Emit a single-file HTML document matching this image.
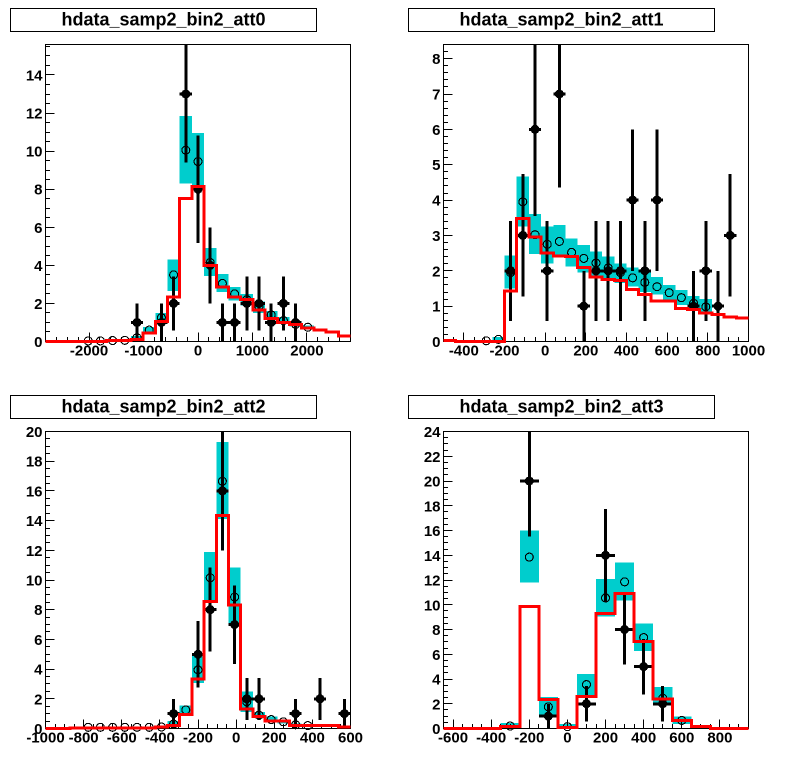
<!DOCTYPE html>
<html>
<head>
<meta charset="utf-8">
<style>
html,body{margin:0;padding:0;background:#fff;width:796px;height:774px;overflow:hidden}
svg{display:block}
text{font-family:"Liberation Sans",sans-serif;font-weight:bold;fill:#000}
</style>
</head>
<body>
<svg id="chart" width="796" height="774" viewBox="0 0 796 774" xmlns="http://www.w3.org/2000/svg">
  <g id="panel0" transform="translate(0,0)">
    <rect x="10.5" y="8.5" width="306" height="23" fill="#fff" stroke="#000"/>
    <text x="163.5" y="25.5" font-size="18" text-anchor="middle">hdata_samp2_bin2_att0</text>
  </g>
  <g id="panel1" transform="translate(398,0)">
    <rect x="10.5" y="8.5" width="306" height="23" fill="#fff" stroke="#000"/>
    <text x="163.5" y="25.5" font-size="18" text-anchor="middle">hdata_samp2_bin2_att1</text>
  </g>
  <g id="panel2" transform="translate(0,387)">
    <rect x="10.5" y="8.5" width="306" height="23" fill="#fff" stroke="#000"/>
    <text x="163.5" y="25.5" font-size="18" text-anchor="middle">hdata_samp2_bin2_att2</text>
  </g>
  <g id="panel3" transform="translate(398,387)">
    <rect x="10.5" y="8.5" width="306" height="23" fill="#fff" stroke="#000"/>
    <text x="163.5" y="25.5" font-size="18" text-anchor="middle">hdata_samp2_bin2_att3</text>
  </g>
</svg>
<script>
// att0
const att0Range = [-2800, 2800];
const att0YMax = 15.6;
const att0XTicks = [-2000, -1000, 0, 1000, 2000];
const att0YTicks = [0, 2, 4, 6, 8, 10, 12, 14];
const att0XMinor = 200;
const att0YMinor = 0.5;
const att0Model = [0, 0, 0, 0, 0, 0.05, 0.05, 0.1, 0.45, 1.05, 2.35, 7.5, 8.15, 4.0, 2.85, 2.35, 2.2, 1.65, 1.2, 1.0, 0.9, 0.7, 0.6, 0.5, 0.3];
const att0Expected = [null, null, null, 0.03, 0.03, 0.05, 0.06, 0.2, 0.6, 1.25, 3.5, 10.05, 9.45, 4.15, 3.05, 2.5, 2.2, 1.85, 1.4, 1.1, 0.9, 0.75, null, null, null];
const att0BandHigh = [null, null, null, null, null, null, null, 0.3, 0.75, 1.5, 4.3, 11.85, 10.95, 4.9, 3.55, 2.85, 2.5, 2.1, 1.6, 1.3, 1.0, 0.85, null, null, null];
const att0BandLow = [null, null, null, null, null, null, null, 0.1, 0.45, 1.0, 2.65, 8.3, 8.0, 3.45, 2.6, 2.15, 1.9, 1.5, 1.15, 0.95, 0.8, 0.65, null, null, null];
const att0Data = [null, null, null, null, null, null, null, 1, null, 1, 2, 13, 8, 4, 1, 1, 2, 2, 1, 2, 1, null, null, null, null];

// att1
const att1Range = [-500, 1000];
const att1YMax = 8.4;
const att1XTicks = [-400, -200, 0, 200, 400, 600, 800, 1000];
const att1YTicks = [0, 1, 2, 3, 4, 5, 6, 7, 8];
const att1XMinor = 50;
const att1YMinor = 0.2;
const att1Model = [0.03, 0, 0, 0, 0, 1.43, 3.48, 2.95, 2.5, 2.42, 2.4, 2.1, 1.83, 1.75, 1.72, 1.47, 1.33, 1.15, 1.15, 0.93, 0.9, 0.8, 0.77, 0.7, 0.67];
const att1Expected = [null, null, null, 0.02, 0.06, 1.95, 3.95, 3.02, 2.75, 2.83, 2.52, 2.35, 2.22, 2.08, 1.95, 1.8, 1.67, 1.55, 1.38, 1.24, 1.08, 0.98, null, null, null];
const att1BandHigh = [null, null, null, null, 0.13, 2.43, 4.67, 3.6, 3.25, 3.3, 2.92, 2.73, 2.55, 2.4, 2.2, 2.1, 1.95, 1.83, 1.6, 1.45, 1.28, 1.2, null, null, null];
const att1BandLow = [null, null, null, null, 0, 1.5, 3.25, 2.47, 2.2, 2.4, 2.12, 1.95, 1.85, 1.78, 1.65, 1.55, 1.4, 1.33, 1.15, 1.03, 0.9, 0.8, null, null, null];
const att1Data = [null, null, null, null, null, 2, 3, 6, 2, 7, null, 1, 2, 2, 2, 4, 2, 4, null, null, 1, 2, 1, 3, null];

// att2
const att2Range = [-1000, 600];
const att2YMax = 20;
const att2XTicks = [-1000, -800, -600, -400, -200, 0, 200, 400, 600];
const att2YTicks = [0, 2, 4, 6, 8, 10, 12, 14, 16, 18, 20];
const att2XMinor = 50;
const att2YMinor = 0.5;
const att2Model = [0, 0, 0.05, 0.03, 0.03, 0.03, 0.03, 0.03, 0.05, 0.1, 0.2, 0.95, 3.35, 8.55, 14.35, 8.3, 1.3, 0.8, 0.5, 0.5, 0.2, 0.2, 0.2, 0.2, 0.1];
const att2Expected = [null, null, null, 0.08, 0.08, 0.08, 0.08, 0.08, 0.08, 0.1, 0.3, 1.25, 3.95, 10.15, 16.65, 8.85, 1.8, 0.9, 0.6, 0.45, 0.25, 0.2, null, null, null];
const att2BandHigh = [null, null, null, null, null, null, null, null, null, null, 0.5, 1.55, 4.9, 11.9, 19.3, 10.85, 2.5, 1.1, 0.8, 0.55, 0.35, 0.3, null, null, null];
const att2BandLow = [null, null, null, null, null, null, null, null, null, null, 0.1, 0.95, 3.05, 8.55, 14.1, 7, 1.1, 0.7, 0.45, 0.35, 0.15, 0.1, null, null, null];
const att2Data = [null, null, null, null, null, null, null, null, null, null, 1, null, 5, 8, 16, 7, 2, 2, null, null, 1, null, 2, null, 1];

// att3
const att3Range = [-650, 950];
const att3YMax = 24;
const att3XTicks = [-600, -400, -200, 0, 200, 400, 600, 800];
const att3YTicks = [0, 2, 4, 6, 8, 10, 12, 14, 16, 18, 20, 22, 24];
const att3XMinor = 50;
const att3YMinor = 0.5;
const att3Model = [0, 0, 0, 0.15, 9.85, 2.35, 0.1, 2.6, 9.3, 10.9, 7.05, 2.4, 0.65, 0.15, 0, 0];
const att3Expected = [null, null, null, 0.2, 13.85, 1.75, 0.15, 3.55, 10.55, 11.85, 7.35, 2.45, 0.65, null, null, null];
const att3BandHigh = [null, null, null, 0.45, 16, 2.55, 0.35, 4.4, 12.1, 13.4, 8.5, 3.35, 0.95, null, null, null];
const att3BandLow = [null, null, null, 0, 11.8, 1.0, 0, 2.6, 9.05, 10.35, 6.25, 1.85, 0.35, null, null, null];
const att3Data = [null, null, null, null, 20, 1, null, 2, 14, 8, 5, 2, null, null, null, null];

const panels = [
  {id:'panel0', range:att0Range, yMax:att0YMax, xTicks:att0XTicks, yTicks:att0YTicks, xMinor:att0XMinor, yMinor:att0YMinor, model:att0Model, expected:att0Expected, high:att0BandHigh, low:att0BandLow, data:att0Data},
  {id:'panel1', range:att1Range, yMax:att1YMax, xTicks:att1XTicks, yTicks:att1YTicks, xMinor:att1XMinor, yMinor:att1YMinor, model:att1Model, expected:att1Expected, high:att1BandHigh, low:att1BandLow, data:att1Data},
  {id:'panel2', range:att2Range, yMax:att2YMax, xTicks:att2XTicks, yTicks:att2YTicks, xMinor:att2XMinor, yMinor:att2YMinor, model:att2Model, expected:att2Expected, high:att2BandHigh, low:att2BandLow, data:att2Data},
  {id:'panel3', range:att3Range, yMax:att3YMax, xTicks:att3XTicks, yTicks:att3YTicks, xMinor:att3XMinor, yMinor:att3YMinor, model:att3Model, expected:att3Expected, high:att3BandHigh, low:att3BandLow, data:att3Data}
];

const NS = 'http://www.w3.org/2000/svg';
const LEFT = 45.5, RIGHT = 350.5, TOP = 44.5, BOTTOM = 341.5;

function make(parent, tag, props) {
  const el = document.createElementNS(NS, tag);
  for (const k in props) el.setAttribute(k, props[k]);
  parent.appendChild(el);
  return el;
}

function drawPanel(p) {
  const root = document.getElementById(p.id);
  const xOf = v => LEFT + (v - p.range[0]) / (p.range[1] - p.range[0]) * (RIGHT - LEFT);
  const yOf = v => BOTTOM - v / p.yMax * (BOTTOM - TOP);
  const n = p.model.length;
  const bw = (p.range[1] - p.range[0]) / n;
  const edge = i => p.range[0] + bw * i;
  const center = i => p.range[0] + bw * (i + 0.5);

  const frame = make(root, 'rect', {x:LEFT, y:TOP, width:RIGHT-LEFT, height:BOTTOM-TOP, fill:'#fff', stroke:'none'});
  
  

  // bands
  p.high.forEach((h, i) => {
    if (h === null) return;
    const r = make(root, 'rect', {x:xOf(edge(i)), y:yOf(h), width:xOf(edge(i+1))-xOf(edge(i)), height:yOf(p.low[i])-yOf(h), fill:'#00cdcd', 'shape-rendering':'crispEdges'});
    
    
  });

  // open circles
  p.expected.forEach((v, i) => {
    if (v === null) return;
    const c = make(root, 'circle', {cx:xOf(center(i)), cy:yOf(v), r:4, fill:'none', stroke:'#000', 'stroke-width':1.1, 'shape-rendering':'crispEdges'});
    
    
  });

  // ticks
  const tg = make(root, 'g', {stroke:'#000', 'stroke-width':1, 'shape-rendering':'crispEdges'});
  
  
  const xStart = Math.ceil(p.range[0] / p.xMinor) * p.xMinor;
  for (let v = xStart; v <= p.range[1] + 1e-6; v += p.xMinor) {
    const major = p.xTicks.includes(Math.round(v));
    const x = Math.floor(xOf(v)) + 0.5;
    make(tg, 'line', {x1:x, x2:x, y1:BOTTOM, y2:BOTTOM - (major ? 9 : 4.5)});
  }
  const ySteps = Math.floor(p.yMax / p.yMinor + 1e-6);
  for (let k = 0; k <= ySteps; k++) {
    const v = k * p.yMinor;
    const major = p.yTicks.some(t => Math.abs(t - v) < 1e-6);
    const y = Math.floor(yOf(v)) + 0.5;
    make(tg, 'line', {x1:LEFT, x2:LEFT + (major ? 9 : 4.5), y1:y, y2:y});
  }

  // frame outline
  const outline = make(root, 'rect', {x:LEFT, y:TOP, width:RIGHT-LEFT, height:BOTTOM-TOP, fill:'none', stroke:'#000', 'stroke-width':1, 'shape-rendering':'crispEdges'});
  
  

  // data points with errors
  p.data.forEach((v, i) => {
    if (v === null) return;
    const g = make(root, 'g', {});
    
    
    const e = Math.sqrt(v);
    const cx = xOf(center(i)), cy = yOf(v);
    make(g, 'line', {x1:cx, x2:cx, y1:Math.max(yOf(v + e), TOP), y2:Math.min(yOf(v - e), BOTTOM), stroke:'#000', 'stroke-width':3, 'shape-rendering':'crispEdges'});
    make(g, 'line', {x1:xOf(edge(i)), x2:xOf(edge(i+1)), y1:cy, y2:cy, stroke:'#000', 'stroke-width':3, 'shape-rendering':'crispEdges'});
    make(g, 'circle', {cx:cx, cy:cy, r:4.5, fill:'#000', 'shape-rendering':'crispEdges'});
  });

  // model histogram
  let d = 'M' + LEFT + ' ' + yOf(p.model[0]);
  p.model.forEach((v, i) => {
    d += ' L' + xOf(edge(i)) + ' ' + yOf(v) + ' L' + xOf(edge(i+1)) + ' ' + yOf(v);
  });
  const red = make(root, 'path', {d:d, fill:'none', stroke:'#ff0000', 'stroke-width':3, 'stroke-linejoin':'miter', 'shape-rendering':'crispEdges'});
  
  

  // labels
  p.xTicks.forEach(v => {
    const t = make(root, 'text', {x:xOf(v), y:355.5, 'font-size':15, 'text-anchor':'middle'});
    
    
    t.textContent = String(v);
  });
  p.yTicks.forEach(v => {
    const t = make(root, 'text', {x:42.5, y:yOf(v) + 5.5, 'font-size':15, 'text-anchor':'end'});
    
    
    t.textContent = String(v);
  });
}
panels.forEach(drawPanel);
</script>
</body>
</html>
